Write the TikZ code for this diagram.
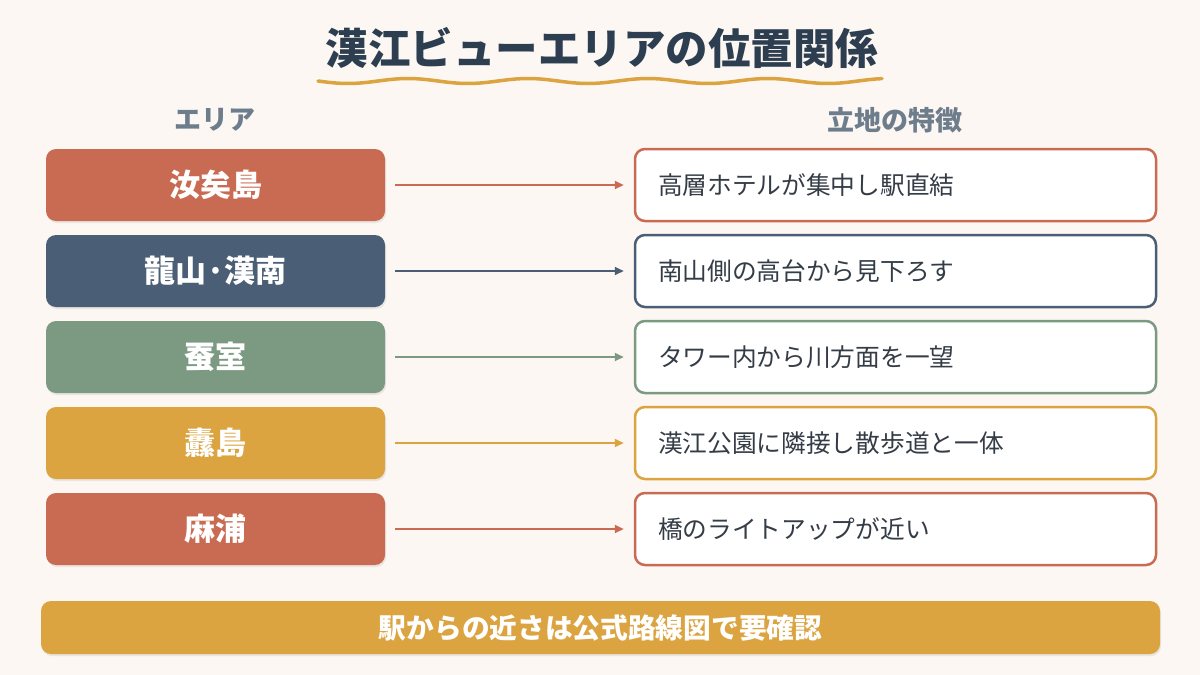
\documentclass[tikz,border=0pt]{standalone}
\usepackage{fontspec}
\setmainfont{Noto Sans CJK JP}
\usetikzlibrary{arrows.meta,positioning,shadows}
\definecolor{bgcream}{RGB}{252,247,242}
\definecolor{titlenavy}{RGB}{44,62,80}
\definecolor{headgray}{RGB}{110,125,140}
\definecolor{bodytext}{RGB}{52,60,70}
\definecolor{terracotta}{RGB}{201,107,82}
\definecolor{slatenavy}{RGB}{74,95,117}
\definecolor{sagegreen}{RGB}{124,154,130}
\definecolor{goldamber}{RGB}{219,164,65}

\tikzset{
  areabox/.style={rectangle, rounded corners=10pt, minimum width=339pt, minimum height=72pt,
    text=white, font=\fontsize{31}{34}\selectfont\bfseries,
    drop shadow={shadow xshift=1pt, shadow yshift=-2pt, opacity=0.15}},
  featbox/.style={rectangle, rounded corners=10pt, fill=white, line width=2.5pt,
    minimum height=72pt, text width=475pt, align=left, inner xsep=23pt,
    text=bodytext, font=\fontsize{24.7}{28}\selectfont},
  linkarrow/.style={-{Triangle[length=9pt,width=8pt]}, line width=2pt,
    shorten <=10pt, shorten >=10pt},
  colhead/.style={text=headgray, font=\fontsize{27}{30}\selectfont\bfseries}
}

\begin{document}
\begin{tikzpicture}[x=1pt, y=-1pt]
  \fill[bgcream] (0,0) rectangle (1200,675);
  \useasboundingbox (0,0) rectangle (1200,675);

  % title and wavy underline
  \node[text=titlenavy, font=\fontsize{42.5}{46}\selectfont\bfseries] (title) at (602,48) {漢江ビューエリアの位置関係};
  \draw[goldamber, line width=3.5pt, line cap=round]
    plot[domain=318:882, samples=120] (\x, {81+2.5*sin((\x-318)*3)});

  % column headers
  \node[colhead] (headarea) at (215,120) {エリア};
  \node[colhead] (headfeat) at (895,120) {立地の特徴};

  % rows
  \foreach \i/\area/\feat/\col in {
      1/汝矣島/高層ホテルが集中し駅直結/terracotta,
      2/龍山·漢南/南山側の高台から見下ろす/slatenavy,
      3/蚕室/タワー内から川方面を一望/sagegreen,
      4/纛島/漢江公園に隣接し散歩道と一体/goldamber,
      5/麻浦/橋のライトアップが近い/terracotta} {
    \node[areabox, fill=\col] (area\i) at (215.5,{185+86*(\i-1)}) {\area};
    \node[featbox, draw=\col] (feat\i) at (895.5,{185+86*(\i-1)}) {\feat};
    \draw[linkarrow, \col] (area\i) -- (feat\i);
  }

  % bottom note
  \node[rectangle, rounded corners=10pt, fill=goldamber, minimum width=1119pt, minimum height=53pt,
    text=white, font=\fontsize{27.7}{30}\selectfont\bfseries,
    drop shadow={shadow xshift=1pt, shadow yshift=-2pt, opacity=0.15}] (note) at (600.5,627.5)
    {駅からの近さは公式路線図で要確認};
\end{tikzpicture}
\end{document}
